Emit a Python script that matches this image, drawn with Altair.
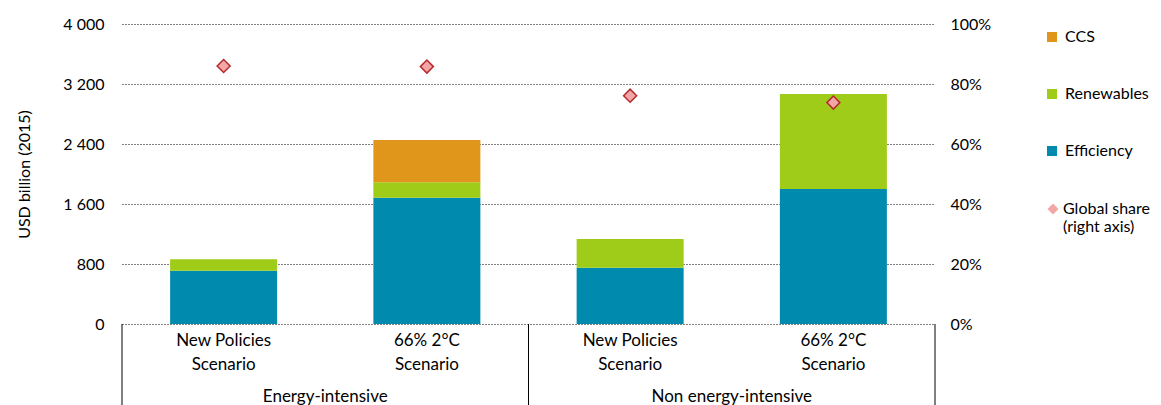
import altair as alt
import pandas as pd

# ---- data ----
groups = ["Energy-intensive", "Non energy-intensive"]
scenarios = ["New Policies\nScenario", "66% 2°C\nScenario", "New Policies\nScenario", "66% 2°C\nScenario"]
efficiency = [711, 1684, 751, 1800]
renewables = [152, 205, 382, 1267]
ccs = [0, 564, 0, 0]
global_share = [0.86, 0.858, 0.761, 0.738]
components = ["CCS", "Renewables", "Efficiency"]
colors = ["#E0961A", "#9FCC18", "#008AAD"]
left_ticks = [0, 800, 1600, 2400, 3200, 4000]
right_ticks = [0, 0.2, 0.4, 0.6, 0.8, 1.0]

FONT = "Lato"
W, H = 813, 300

rows = []
for i in range(4):
    for comp, vals, o in [("Efficiency", efficiency, 0), ("Renewables", renewables, 1), ("CCS", ccs, 2)]:
        if vals[i] > 0:
            rows.append({"idx": i, "component": comp, "value": vals[i], "order": o})
bars_df = pd.DataFrame(rows)
share_df = pd.DataFrame({"idx": list(range(4)), "share": global_share, "series": ["Global share"] * 4})
labels_df = pd.DataFrame({"idx": list(range(4)), "label": scenarios})
group_df = pd.DataFrame({"center": [0.5, 2.5], "group": groups})
bounds_df = pd.DataFrame({"edge": [-0.5, 1.5, 3.5]})

xscale = alt.Scale(domain=[-0.5, 3.5], nice=False, zero=False, padding=0)

bars = alt.Chart(bars_df).mark_bar(size=107).encode(
    x=alt.X("idx:Q", scale=xscale,
            axis=alt.Axis(labels=False, ticks=False, grid=False, domain=True,
                          domainColor="black", domainWidth=1, title=None)),
    y=alt.Y("value:Q", stack="zero",
            scale=alt.Scale(domain=[0, 4000], nice=False),
            axis=alt.Axis(values=left_ticks, title="USD billion (2015)",
                          labelExpr="replace(format(datum.value, ','), ',', ' ')",
                          grid=True, gridColor="black", gridDash=[1, 2], gridWidth=1,
                          ticks=False, domain=False, labelPadding=18,
                          labelFont=FONT, labelFontSize=16, labelColor="black",
                          titleFont=FONT, titleFontSize=16, titleFontWeight="normal",
                          titleColor="black", titlePadding=30)),
    color=alt.Color("component:N",
                    scale=alt.Scale(domain=components, range=colors),
                    legend=alt.Legend(title=None, orient="none", legendX=922, legendY=5,
                                      symbolType="square", symbolSize=100, symbolStrokeWidth=0,
                                      labelFont=FONT, labelFontSize=16, labelColor="black",
                                      rowPadding=41, labelOffset=5)),
    order=alt.Order("order:Q"),
)

points = alt.Chart(share_df).mark_point(
    shape="diamond", filled=True, fill="#F2A7A6", stroke="#B52A2E", strokeWidth=1.5,
    size=170, opacity=1
).encode(
    x=alt.X("idx:Q", scale=xscale, axis=None),
    y=alt.Y("share:Q", scale=alt.Scale(domain=[0, 1], nice=False),
            axis=alt.Axis(orient="right", values=right_ticks, format=".0%", title=None,
                          grid=False, ticks=False, domain=False, labelPadding=15,
                          labelFont=FONT, labelFontSize=16, labelColor="black")),
    shape=alt.Shape("series:N", scale=alt.Scale(domain=["Global share"], range=["diamond"]),
                    legend=alt.Legend(title=None, orient="none", legendX=923, legendY=177,
                                      symbolFillColor="#F2A7A6", symbolStrokeColor="#B52A2E",
                                      symbolStrokeWidth=1.5, symbolSize=120, symbolOpacity=1,
                                      labelFont=FONT, labelFontSize=16, labelColor="black",
                                      labelOffset=2,
                                      labelExpr="datum.label == 'Global share' ? ['Global share', '(right axis)'] : datum.label")),
)

box = alt.Chart(bounds_df).mark_rule(color="black", strokeWidth=1).encode(
    x=alt.X("edge:Q", scale=xscale, axis=None),
    y=alt.value(H),
    y2=alt.value(H + 90),
)

scen_text = alt.Chart(labels_df).mark_text(
    lineBreak="\n", baseline="top", fontSize=17, font=FONT, color="black", lineHeight=24
).encode(
    x=alt.X("idx:Q", scale=xscale, axis=None),
    y=alt.value(H + 9),
    text="label:N",
)

group_text = alt.Chart(group_df).mark_text(
    baseline="middle", fontSize=17, font=FONT, color="black"
).encode(
    x=alt.X("center:Q", scale=xscale, axis=None),
    y=alt.value(H + 73),
    text="group:N",
)

chart = alt.layer(bars, points, box, scen_text, group_text).resolve_scale(
    y="independent"
).properties(
    width=W, height=H,
    autosize=alt.AutoSizeParams(type="none"),
    padding={"left": 114, "top": 16, "right": 218, "bottom": 90},
).configure_view(stroke=None)

chart.save("out.html", embed_options={"renderer": "svg", "actions": False})
